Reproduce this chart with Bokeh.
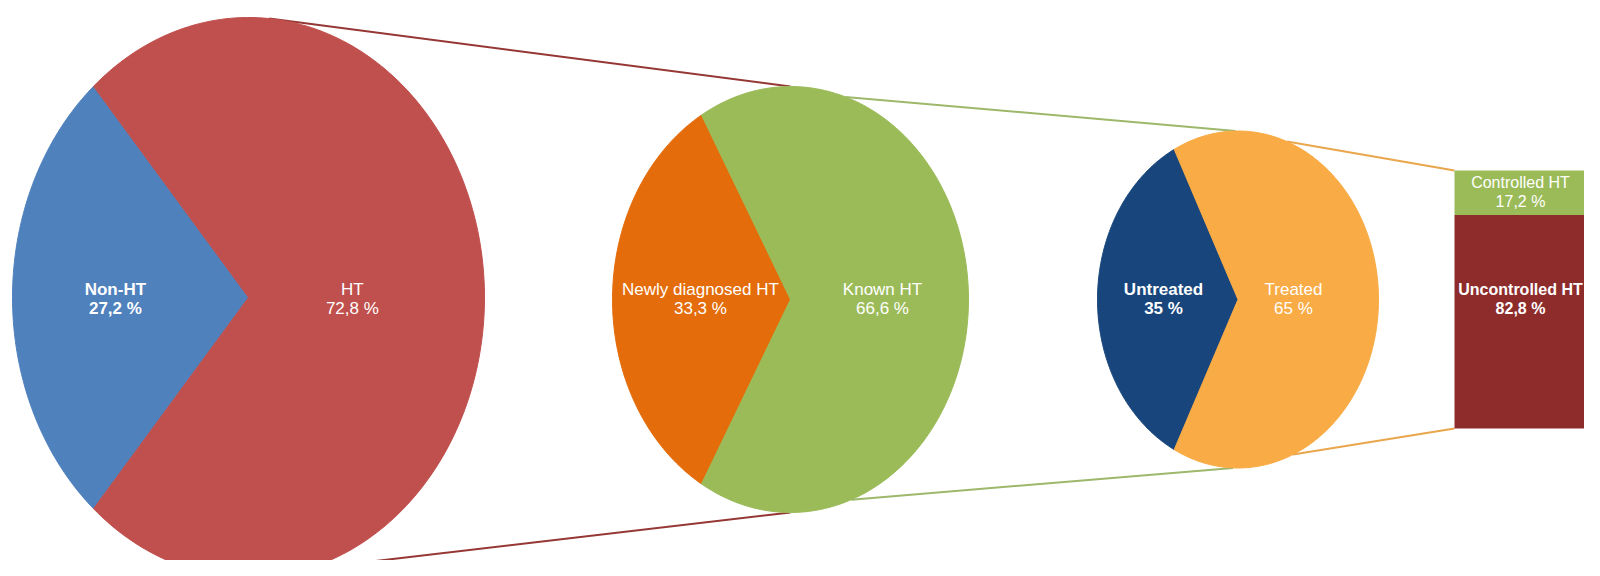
import numpy as np
from bokeh.plotting import figure
from bokeh.models import Range1d
from bokeh.embed import file_html
from bokeh.resources import INLINE
from bokeh.core.properties import value

# ---------------- data ----------------
pie1_labels = ["Non-HT", "HT"]
pie1_values = [27.2, 72.8]
pie2_labels = ["Newly diagnosed HT", "Known HT"]
pie2_values = [33.3, 66.6]
pie3_labels = ["Untreated", "Treated"]
pie3_values = [35, 65]
bar_labels = ["Controlled HT", "Uncontrolled HT"]
bar_values = [17.2, 82.8]

# ---------------- styles ----------------
pie1_colors = ["#4F81BD", "#C0504D"]
pie2_colors = ["#E46C0A", "#9BBB59"]
pie3_colors = ["#17457C", "#F9AB45"]
bar_colors = ["#9BBB59", "#8E2C2C"]
bold_flags = [["bold", "normal"], ["normal", "normal"], ["bold", "normal"], ["normal", "bold"]]
link_colors = ["#953735", "#9DB86A", "#E9A64C"]
FONT = "Liberation Sans"

# ---------------- layout (screen pixels) ----------------
W, H = 1584, 560
pie_geo = [
    dict(cx=248, cy=297, rx=236, ry=280, lab=(-0.564, 0.44)),
    dict(cx=790, cy=299, rx=178, ry=213, lab=(-0.506, 0.517)),
    dict(cx=1237.5, cy=299, rx=140.5, ry=168.5, lab=(-0.53, 0.395)),
]
bar_geo = dict(left=1454, right=1600, top=170, bottom=428)
bar_label_x = 1520
LABEL_Y = 298
NAME_DY = -9
PCT_DY = 10

p = figure(width=W, height=H, output_backend="svg", toolbar_location=None,
           x_range=Range1d(0, W), y_range=Range1d(H, 0),
           min_border=0, outline_line_color=None, background_fill_color="white")
p.axis.visible = False
p.grid.visible = False


def ell(g, deg):
    t = np.deg2rad(deg)
    return g["cx"] + g["rx"] * np.cos(t), g["cy"] - g["ry"] * np.sin(t)


def fmt(v):
    return f"{v:g}".replace(".", ",") + " %"


def label(x, y, name, pct, st, size="17px"):
    p.text([x], [y + NAME_DY], text=[name], text_color="white",
           text_font=value(FONT), text_font_size=size, text_font_style=st,
           text_align="center", text_baseline="middle")
    p.text([x], [y + PCT_DY], text=[pct], text_color="white",
           text_font=value(FONT), text_font_size=size, text_font_style=st,
           text_align="center", text_baseline="middle")


# connector lines (behind pies)
links = [
    (pie_geo[0], 85, pie_geo[1], 90, pie_geo[0], -76, pie_geo[1], -90),
    (pie_geo[1], 72, pie_geo[2], 91, pie_geo[1], -70, pie_geo[2], -92),
]
for i, (ga, a1, gb, b1, gc, c1, gd, d1) in enumerate(links):
    x0, y0 = ell(ga, a1); x1, y1 = ell(gb, b1)
    p.line([x0, x1], [y0, y1], line_color=link_colors[i], line_width=2)
    x0, y0 = ell(gc, c1); x1, y1 = ell(gd, d1)
    p.line([x0, x1], [y0, y1], line_color=link_colors[i], line_width=2)
# pie3 -> bar
x0, y0 = ell(pie_geo[2], 69.6)
p.line([x0, bar_geo["left"]], [y0, bar_geo["top"]], line_color=link_colors[2], line_width=2)
x0, y0 = ell(pie_geo[2], -67)
p.line([x0, bar_geo["left"]], [y0, bar_geo["bottom"]], line_color=link_colors[2], line_width=2)

# pies
pies = [(pie1_labels, pie1_values, pie1_colors),
        (pie2_labels, pie2_values, pie2_colors),
        (pie3_labels, pie3_values, pie3_colors)]
for k, ((labels, vals, cols), g) in enumerate(zip(pies, pie_geo)):
    total = float(sum(vals))
    half = 180.0 * vals[0] / total
    spans = [(180 - half, 180 + half), (180 + half, 540 - half)]
    for (a0, a1), col in zip(spans, cols):
        th = np.linspace(a0, a1, 200)
        xs, ys = ell(g, th)
        xs = np.concatenate([[g["cx"]], xs])
        ys = np.concatenate([[g["cy"]], ys])
        p.patch(xs, ys, fill_color=col, line_color=col, line_width=1)
    for j in range(2):
        lx = g["cx"] + g["lab"][j] * g["rx"]
        label(lx, LABEL_Y, labels[j], fmt(vals[j]), bold_flags[k][j])

# stacked bar
bt = float(sum(bar_values))
h = bar_geo["bottom"] - bar_geo["top"]
tops, bottoms = [], []
cur = bar_geo["top"]
for v in bar_values:
    tops.append(cur)
    cur = cur + h * v / bt
    bottoms.append(cur)
p.quad(left=[bar_geo["left"]] * 2, right=[bar_geo["right"]] * 2, top=tops, bottom=bottoms,
       fill_color=bar_colors, line_color=None)
bar_label_y = [(tops[0] + bottoms[0]) / 2.0 - 1, LABEL_Y]
for j in range(2):
    label(bar_label_x, bar_label_y[j], bar_labels[j], fmt(bar_values[j]), bold_flags[3][j], "16px")

open("out.html", "w").write(file_html(p, INLINE))
